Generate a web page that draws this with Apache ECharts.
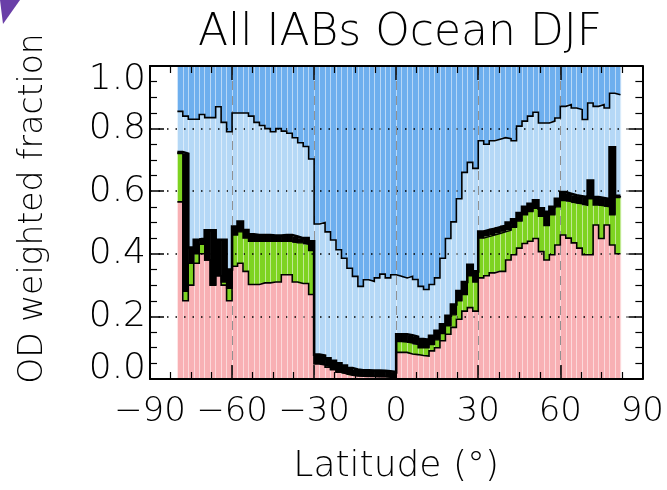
<!DOCTYPE html>
<html><head><meta charset="utf-8">
<script src="https://cdn.jsdelivr.net/npm/echarts@6/dist/echarts.min.js"></script>
<style>html,body{margin:0;padding:0;background:#fff}#c{width:667px;height:490px}</style>
</head><body><div id="c"></div>
<script>
// Latitude bin edges (2 degree bins, -80 .. 82)
const binEdges = [-80,-78,-76,-74,-72,-70,-68,-66,-64,-62,-60,-58,-56,-54,-52,-50,-48,-46,-44,-42,-40,-38,-36,-34,-32,-30,-28,-26,-24,-22,-20,-18,-16,-14,-12,-10,-8,-6,-4,-2,0,2,4,6,8,10,12,14,16,18,20,22,24,26,28,30,32,34,36,38,40,42,44,46,48,50,52,54,56,58,60,62,64,66,68,70,72,74,76,78,80,82];

// Cumulative boundaries (top of each layer) per bin
const pinkTop = [0.566,0.25,0.30,0.37,0.40,0.38,0.30,0.33,0.30,0.25,
 0.36,0.37,0.344,0.302,0.302,0.307,0.307,0.31,0.31,0.333,
 0.333,0.31,0.305,0.305,0.27,0.048,0.045,0.038,0.03,0.022,
 0.016,0.012,0.010,0.009,0.008,0.008,0.007,0.007,0.006,0.006,
 0.085,0.085,0.08,0.078,0.075,0.073,0.09,0.10,0.122,0.143,
 0.165,0.191,0.217,0.228,0.217,0.323,0.33,0.339,0.344,0.344,
 0.38,0.397,0.418,0.433,0.44,0.449,0.407,0.38,0.397,0.428,
 0.46,0.45,0.435,0.418,0.397,0.397,0.492,0.449,0.492,0.428,0.40];
const greenTop = [0.72,0.28,0.37,0.40,0.43,0.38,0.30,0.33,0.31,0.29,
 0.46,0.47,0.45,0.44,0.44,0.44,0.44,0.44,0.44,0.44,
 0.44,0.435,0.435,0.43,0.41,0.05,0.046,0.04,0.031,0.023,
 0.017,0.013,0.011,0.010,0.009,0.009,0.008,0.008,0.007,0.007,
 0.12,0.118,0.115,0.11,0.10,0.10,0.11,0.125,0.145,0.17,
 0.205,0.25,0.27,0.33,0.31,0.45,0.455,0.46,0.465,0.47,
 0.475,0.485,0.505,0.525,0.535,0.545,0.52,0.49,0.525,0.55,
 0.57,0.567,0.562,0.56,0.555,0.576,0.556,0.553,0.55,0.525,0.58];
const blackTop = [0.725,0.72,0.42,0.445,0.45,0.475,0.475,0.445,0.445,0.35,
 0.487,0.503,0.476,0.462,0.46,0.46,0.46,0.458,0.458,0.46,
 0.46,0.455,0.45,0.45,0.44,0.078,0.075,0.066,0.058,0.05,
 0.043,0.035,0.030,0.028,0.028,0.027,0.027,0.026,0.025,0.022,
 0.143,0.143,0.14,0.135,0.128,0.125,0.138,0.154,0.175,0.202,
 0.238,0.281,0.31,0.365,0.344,0.471,0.476,0.48,0.485,0.49,
 0.50,0.51,0.53,0.55,0.56,0.571,0.545,0.534,0.55,0.576,
 0.597,0.592,0.587,0.584,0.581,0.634,0.581,0.578,0.575,0.74,0.585];
const lightTop = [0.855,0.84,0.83,0.83,0.845,0.835,0.835,0.87,0.82,0.79,
 0.85,0.85,0.85,0.84,0.82,0.81,0.80,0.79,0.80,0.792,
 0.785,0.771,0.755,0.743,0.703,0.495,0.50,0.47,0.444,0.413,
 0.386,0.354,0.328,0.296,0.317,0.312,0.323,0.335,0.323,0.333,
 0.328,0.323,0.328,0.318,0.296,0.286,0.302,0.323,0.386,0.449,
 0.502,0.576,0.66,0.692,0.673,0.761,0.75,0.761,0.766,0.771,
 0.768,0.761,0.808,0.824,0.84,0.852,0.818,0.818,0.824,0.834,
 0.871,0.877,0.866,0.861,0.829,0.882,0.871,0.877,0.866,0.913,0.908];
const totalTop = 1.0;

const xTicks = [-90,-60,-30,0,30,60,90];
const yTicks = [0.0,0.2,0.4,0.6,0.8,1.0];

const FONT = 'DejaVu Sans';
const n = pinkTop.length;

function bandData(lo, hi){
  return binEdges.slice(0, n).map((e,i)=>[e, binEdges[i+1], lo ? lo[i] : 0, Array.isArray(hi) ? hi[i] : hi]);
}
function stepData(vals){ return binEdges.map((e,i)=>[e, vals[Math.min(i, n-1)]]); }

function bandSeries(data, color, z){
  return {
    type:'custom', silent:true, z:z, xAxisIndex:0, yAxisIndex:0,
    encode:{x:[0,1], y:[2,3]},
    renderItem:(params, api)=>{
      const a = api.coord([api.value(0), api.value(3)]);
      const b = api.coord([api.value(1), api.value(2)]);
      return {type:'rect', shape:{x:a[0], y:a[1], width:b[0]-a[0]+0.6, height:b[1]-a[1]},
              style:{fill:color, stroke:null}};
    },
    data:data
  };
}

const series = [
  bandSeries(bandData(null, pinkTop), '#F8B0B4', 2),
  bandSeries(bandData(pinkTop, greenTop), '#7ED321', 2),
  bandSeries(bandData(greenTop, blackTop), '#000000', 4),
  bandSeries(bandData(blackTop, lightTop), '#B5D8F6', 2),
  bandSeries(bandData(lightTop, totalTop), '#6EAFEE', 2)
];
[[pinkTop,1.6],[greenTop,1.4],[blackTop,2.6],[lightTop,1.6]].forEach(([arr,w])=>{
  series.push({type:'line', step:'end', symbol:'none', silent:true, xAxisIndex:0, yAxisIndex:0, z:4,
    lineStyle:{width:w, color:'#000', join:'miter'}, data: stepData(arr)});
});

const axLine = {show:true, onZero:false, lineStyle:{color:'#000', width:2}};
const tick = {show:true, inside:true, length:14, lineStyle:{color:'#000', width:1.5}};
const minor = {show:true, splitNumber:4, length:7, lineStyle:{color:'#000', width:1.2}};

const option = {
  animation:false,
  backgroundColor:'#fff',
  title:{text:'All IABs Ocean DJF', left:395, top:7, textAlign:'center',
    textStyle:{fontFamily:FONT, fontSize:44, fontWeight:'lighter', color:'#000'}},
  grid:{left:150, right:24, top:66, bottom:108},
  graphic:[{type:'polygon', shape:{points:[[0,0],[20,0],[3,24]]}, style:{fill:'#6A3FA8'}}],
  xAxis:[
    {type:'value', min:-90, max:90, interval:30, position:'bottom', z:3,
     axisLine:axLine, axisTick:tick, minorTick:minor,
     splitLine:{show:true, lineStyle:{color:'#222', type:[9,6], width:1}},
     axisLabel:{margin:16, fontFamily:FONT, fontSize:34, fontWeight:'lighter', color:'#000',
       formatter:v=> xTicks.includes(v) ? String(v).replace('-', '\u2212') : ''},
     name:'Latitude (°)', nameLocation:'middle', nameGap:70,
     nameTextStyle:{fontFamily:FONT, fontSize:36, fontWeight:'lighter', color:'#000'}},
    {type:'value', min:-90, max:90, interval:30, position:'top', z:3,
     axisLine:axLine, axisTick:tick, minorTick:minor, splitLine:{show:false}, axisLabel:{show:false}},
    {type:'value', min:-90, max:90, interval:2, position:'bottom', z:3,
     axisLine:{show:false}, axisTick:{show:false}, axisLabel:{show:false},
     splitLine:{show:true, lineStyle:{color:'rgba(255,255,255,0.5)', width:1}}}
  ],
  yAxis:[
    {type:'value', min:0, max:1, interval:0.2, position:'left', z:3,
     axisLine:axLine, axisTick:tick, minorTick:minor,
     splitLine:{show:true, lineStyle:{color:'#000', type:[1.5,7], width:1.5}},
     axisLabel:{margin:4, fontFamily:FONT, fontSize:36, fontWeight:'lighter', color:'#000',
       formatter:v=>{ const s=v.toFixed(1); if (v===1) return '{t|'+s+'}'; if (v===0) return '{b|'+s+'}'; return s; },
       rich:{t:{fontFamily:FONT, fontSize:36, fontWeight:'lighter', color:'#000', padding:[28,0,0,0]},
             b:{fontFamily:FONT, fontSize:36, fontWeight:'lighter', color:'#000', padding:[0,0,20,0]}}},
     name:'OD weighted fraction', nameLocation:'middle', nameGap:100,
     nameTextStyle:{fontFamily:FONT, fontSize:33, fontWeight:'lighter', color:'#000', padding:[0,0,0,28]}},
    {type:'value', min:0, max:1, interval:0.2, position:'right', z:3,
     axisLine:axLine, axisTick:tick, minorTick:minor, splitLine:{show:false}, axisLabel:{show:false}}
  ],
  series: series
};
const chart = echarts.init(document.getElementById('c'), null, {renderer:'canvas'});
chart.setOption(option);
</script></body></html>
